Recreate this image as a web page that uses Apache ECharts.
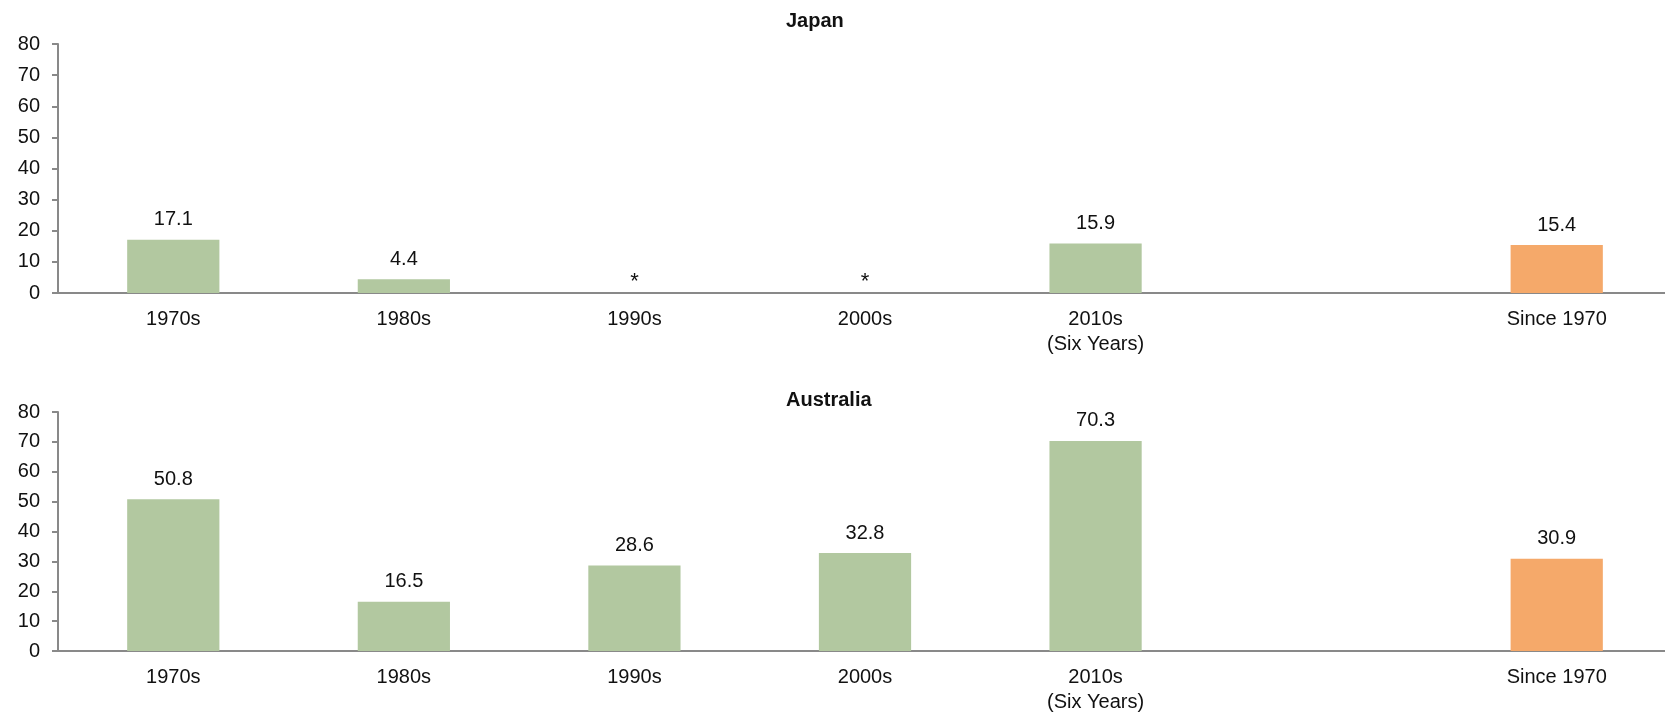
<!DOCTYPE html>
<html>
<head>
<meta charset="utf-8">
<script src="https://cdn.jsdelivr.net/npm/echarts@6/dist/echarts.min.js"></script>
<style>
  html, body { margin: 0; padding: 0; background: #fff; overflow: hidden; }
  #chart { width: 1665px; height: 712px; }
</style>
</head>
<body>
<div id="chart"></div>
<script>
// Decade periods; the blank slot separates the decades from the full-period bar
const categories = ['1970s', '1980s', '1990s', '2000s', '2010s\n(Six Years)', '', 'Since 1970'];

// Japan: 1990s and 2000s are marked with an asterisk (near zero)
const japanValues = [17.1, 4.4, -0.3, -0.3, 15.9, null, 15.4];
const japanLabels = ['17.1', '4.4', '*', '*', '15.9', '', '15.4'];

const australiaValues = [50.8, 16.5, 28.6, 32.8, 70.3, null, 30.9];
const australiaLabels = ['50.8', '16.5', '28.6', '32.8', '70.3', '', '30.9'];

const yTicks = [0, 10, 20, 30, 40, 50, 60, 70, 80];

const GREEN = '#B2C8A0';
const ORANGE = '#F5A96A';
const AXIS = '#898989';
const TEXT = '#111111';
const FONT = '"Liberation Sans", Arial, sans-serif';
const FS = 20;

function buildData(values, labels) {
  return values.map((v, i) => {
    if (v === null) return null;
    const item = {
      value: v,
      itemStyle: { color: categories[i] === 'Since 1970' ? ORANGE : GREEN },
      label: { formatter: labels[i] }
    };
    if (labels[i] === '*') {
      item.label.distance = 0;
      item.label.fontSize = 22;
    }
    return item;
  });
}

// Plot area runs slightly past the right edge of the canvas
const grids = [
  { left: 58, width: 1614, top: 44, height: 249, outerBoundsMode: 'none', containLabel: false },
  { left: 58, width: 1614, top: 412, height: 239, outerBoundsMode: 'none', containLabel: false }
];

function xAxis(gridIndex) {
  return {
    type: 'category',
    gridIndex,
    data: categories,
    axisLine: { lineStyle: { color: AXIS, width: 2 } },
    axisTick: { show: false },
    axisLabel: {
      interval: 0,
      color: TEXT,
      fontFamily: FONT,
      fontSize: FS,
      lineHeight: 25,
      margin: 14
    }
  };
}

function yAxis(gridIndex) {
  return {
    type: 'value',
    gridIndex,
    min: yTicks[0],
    max: yTicks[yTicks.length - 1],
    interval: yTicks[1] - yTicks[0],
    axisLine: { show: true, lineStyle: { color: AXIS, width: 2 } },
    axisTick: { show: true, length: 6, lineStyle: { color: AXIS, width: 2 } },
    splitLine: { show: false },
    axisLabel: {
      color: TEXT,
      fontFamily: FONT,
      fontSize: FS,
      margin: 18
    }
  };
}

function barSeries(idx, values, labels) {
  return {
    type: 'bar',
    xAxisIndex: idx,
    yAxisIndex: idx,
    barWidth: '40%',
    data: buildData(values, labels),
    label: {
      show: true,
      position: 'top',
      distance: 10,
      color: TEXT,
      fontFamily: FONT,
      fontSize: FS
    }
  };
}

const chart = echarts.init(document.getElementById('chart'), null, { renderer: 'canvas' });
chart.setOption({
  animation: false,
  backgroundColor: '#ffffff',
  title: [
    { text: 'Japan', left: 781, top: 6,
      textStyle: { fontFamily: FONT, fontSize: FS, fontWeight: 'bold', color: TEXT } },
    { text: 'Australia', left: 781, top: 385,
      textStyle: { fontFamily: FONT, fontSize: FS, fontWeight: 'bold', color: TEXT } }
  ],
  grid: grids,
  xAxis: [xAxis(0), xAxis(1)],
  yAxis: [yAxis(0), yAxis(1)],
  series: [
    barSeries(0, japanValues, japanLabels),
    barSeries(1, australiaValues, australiaLabels)
  ]
});
</script>
</body>
</html>
